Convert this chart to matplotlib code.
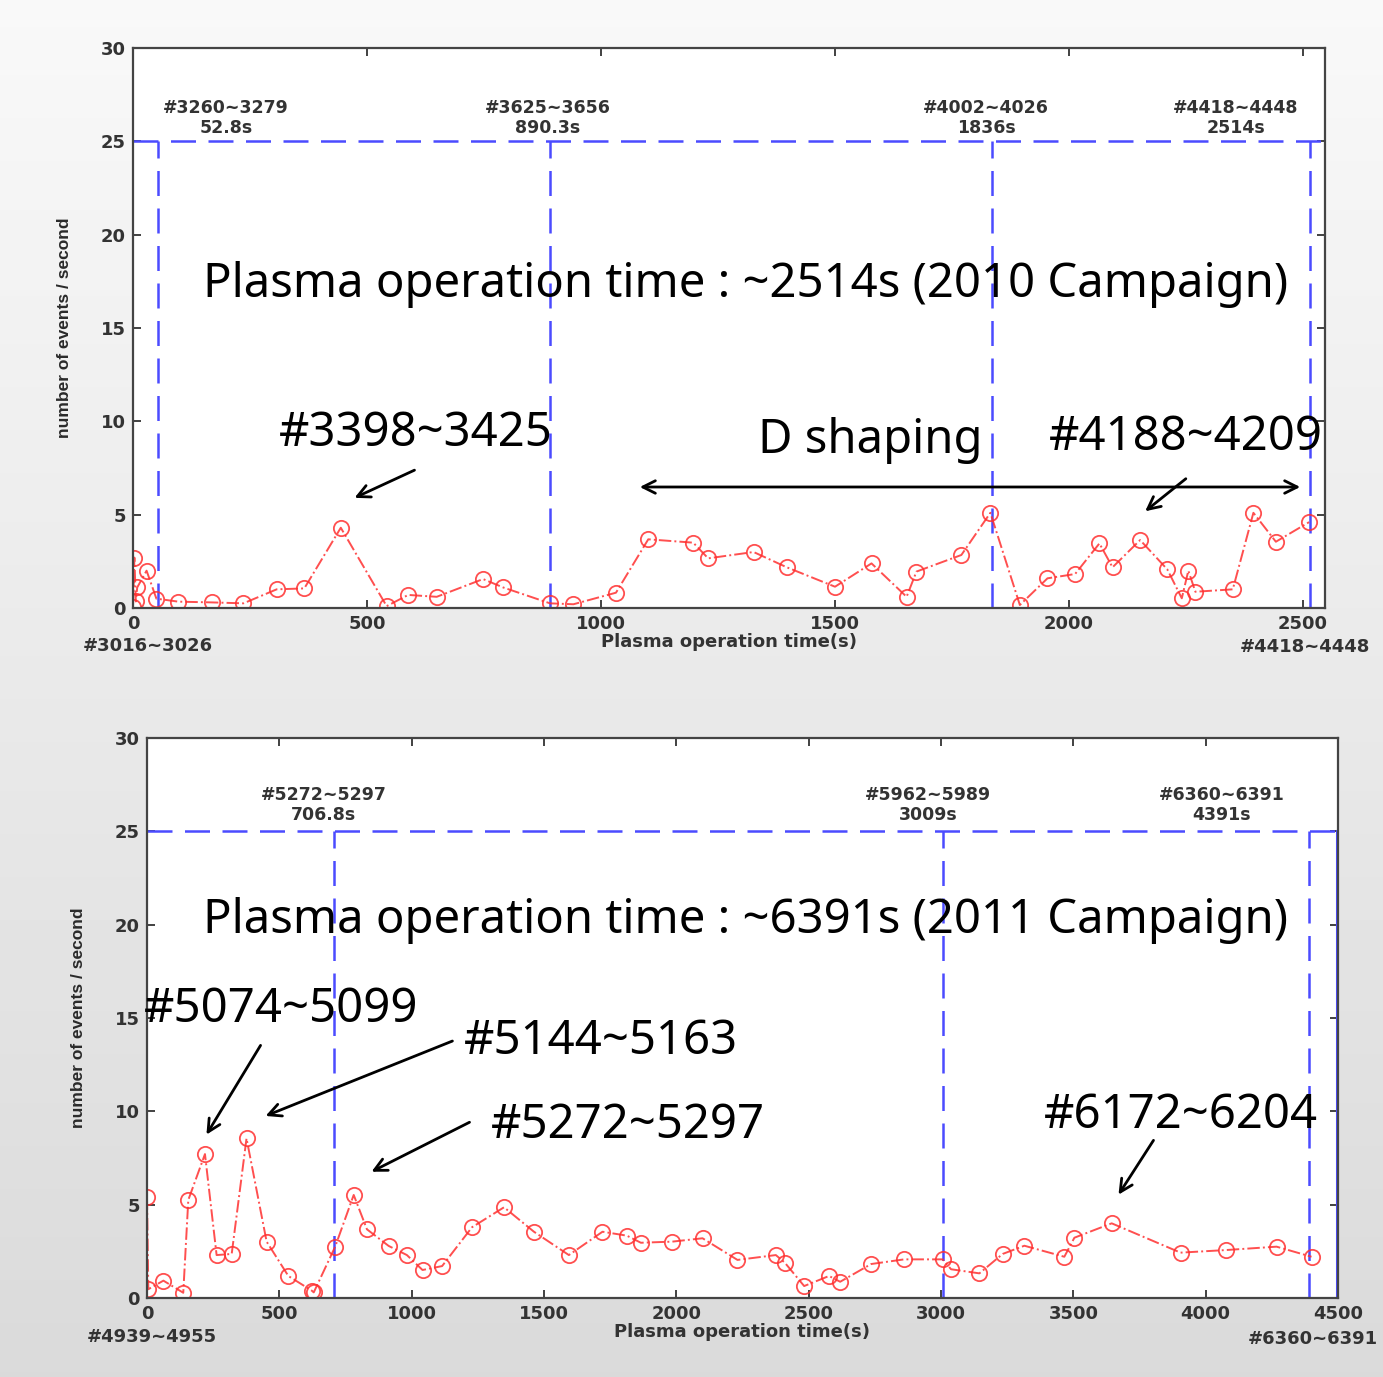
import matplotlib as mpl
mpl.use('Agg')
import matplotlib.pyplot as plt
import numpy as np

# 2010 campaign
t1 = [0, 3, 6, 9, 29, 50, 97, 168, 236, 307, 366, 444, 542, 588, 649, 748, 791, 891, 941,
      1032, 1101, 1197, 1229, 1326, 1397, 1500, 1578, 1653, 1674, 1770, 1832, 1895, 1954,
      2013, 2065, 2093, 2152, 2210, 2241, 2255, 2270, 2350, 2394, 2442, 2513]
r1 = [0.05, 2.7, 0.35, 1.1, 2.0, 0.5, 0.34, 0.3, 0.25, 1.0, 1.05, 4.3, 0.1, 0.7, 0.6, 1.55, 1.1,
      0.25, 0.2, 0.82, 3.68, 3.5, 2.66, 3.0, 2.18, 1.14, 2.39, 0.6, 1.95, 2.84, 5.1, 0.16, 1.59,
      1.82, 3.46, 2.18, 3.64, 2.07, 0.52, 2.0, 0.87, 1.0, 5.1, 3.55, 4.6]
marks1 = [52.8, 890.3, 1836, 2514]
mark_labels1 = ["#3260~3279\n52.8s", "#3625~3656\n890.3s", "#4002~4026\n1836s", "#4418~4448\n2514s"]

# 2011 campaign
t2 = [0, 5, 62, 137, 156, 219, 263, 320, 376, 452, 534, 623, 630, 711, 781, 831, 913, 982,
      1041, 1115, 1228, 1349, 1462, 1594, 1721, 1813, 1866, 1985, 2099, 2231, 2376, 2410,
      2483, 2577, 2619, 2736, 2861, 3006, 3038, 3145, 3233, 3315, 3466, 3504, 3645, 3905,
      4078, 4268, 4400]
r2 = [5.39, 0.47, 0.93, 0.28, 5.25, 7.71, 2.3, 2.36, 8.55, 3.02, 1.18, 0.39, 0.3, 2.75, 5.52,
      3.68, 2.79, 2.3, 1.5, 1.71, 3.79, 4.86, 3.55, 2.3, 3.55, 3.34, 2.96, 3.02, 3.2, 2.04, 2.3,
      1.89, 0.64, 1.18, 0.87, 1.82, 2.07, 2.07, 1.54, 1.32, 2.36, 2.8, 2.21, 3.23, 4.0, 2.43,
      2.57, 2.75, 2.21]
marks2 = [706.8, 3009, 4391]
mark_labels2 = ["#5272~5297\n706.8s", "#5962~5989\n3009s", "#6360~6391\n4391s"]

W, H = 1383, 1377
fig = plt.figure(figsize=(W / 100, H / 100), dpi=100)

# grey gradient backdrop
bg = fig.add_axes([0, 0, 1, 1], zorder=-10)
grad = np.linspace(0.975, 0.855, 256).reshape(-1, 1)
bg.imshow(grad, aspect='auto', cmap='gray', vmin=0, vmax=1, extent=[0, 1, 0, 1])
bg.axis('off')

smallfont = dict(family='DejaVu Sans', weight='bold', size=12.5, color='#333333')
labfont = dict(family='DejaVu Sans', weight='bold', size=13, color='#333333')
bigfont = dict(family='Noto Sans', size=34, color='black')
blue = '#4b4bff'
red = '#ff3030'
dash = (0, (10, 5))


def setup(ax, xmax, xticks):
    ax.set_xlim(0, xmax)
    ax.set_ylim(0, 30)
    ax.set_xticks(xticks)
    ax.set_yticks(range(0, 31, 5))
    ax.tick_params(direction='in', length=6, width=1.3, top=True, right=True, pad=5,
                   color='#333333', labelsize=13, labelcolor='#333333')
    for lab in ax.get_xticklabels() + ax.get_yticklabels():
        lab.set_fontfamily('DejaVu Sans')
        lab.set_fontweight('bold')
    for s in ax.spines.values():
        s.set_linewidth(1.6)
        s.set_color('#444444')
    ax.set_xlabel('Plasma operation time(s)', labelpad=0, **labfont)
    ax.set_ylabel('number of events / second', labelpad=21,
                  family='Liberation Sans', size=12.5, weight='bold', color='#2a2a2a')


def to_xy(ax, px, py):
    # pixel position in the picture -> data coords of ax
    inv = ax.transData.inverted()
    return inv.transform((px, H - py))


# ---------- top ----------
ax1 = fig.add_axes([133 / W, 1 - 608 / H, 1192 / W, 560 / H])
setup(ax1, 2547, range(0, 2501, 500))
ax1.axhline(25, color=blue, lw=1.8, ls=dash)
for m in marks1:
    ax1.plot([m, m], [0, 25], color=blue, lw=1.8, ls=dash)
ax1.plot(t1, r1, '-.', color=red, lw=1.4, marker='o', ms=11, mfc='none', mew=1.3, alpha=0.85)
for px, lab in zip([226, 548, 986, 1236], mark_labels1):
    ax1.text(*to_xy(ax1, px, 118), lab, ha='center', va='center', linespacing=1.15, **smallfont)

ax1.text(*to_xy(ax1, 746, 284), 'Plasma operation time : ~2514s (2010 Campaign)',
         ha='center', va='center', **bigfont)
ax1.text(*to_xy(ax1, 416, 433), '#3398~3425', ha='center', va='center', **bigfont)
ax1.text(*to_xy(ax1, 870, 440), 'D shaping', ha='center', va='center', **bigfont)
ax1.text(*to_xy(ax1, 1186, 437), '#4188~4209', ha='center', va='center', **bigfont)

arr = dict(arrowstyle='->,head_length=0.9,head_width=0.45', color='black', lw=2)
ax1.annotate('', xy=to_xy(ax1, 352, 499), xytext=to_xy(ax1, 417, 469), arrowprops=arr)
ax1.annotate('', xy=to_xy(ax1, 1143, 513), xytext=to_xy(ax1, 1188, 477), arrowprops=arr)
ax1.annotate('', xy=to_xy(ax1, 1303, 487), xytext=to_xy(ax1, 637, 487),
             arrowprops=dict(arrowstyle='<->,head_length=0.9,head_width=0.45',
                             color='black', lw=2))
fig.text(148 / W, 1 - 646 / H, '#3016~3026', ha='center', va='center', **labfont)
fig.text(1240 / W, 1 - 647 / H, '#4418~4448', ha='left', va='center', **labfont)

# ---------- bottom ----------
ax2 = fig.add_axes([147 / W, 1 - 1298 / H, 1191 / W, 560 / H])
setup(ax2, 4500, range(0, 4501, 500))
ax2.axhline(25, color=blue, lw=1.8, ls=dash)
for m in marks2:
    ax2.plot([m, m], [0, 25], color=blue, lw=1.8, ls=dash)
ax2.plot([4495, 4495], [0, 25], color=blue, lw=2.2)
ax2.plot(t2, r2, '-.', color=red, lw=1.4, marker='o', ms=11, mfc='none', mew=1.3, alpha=0.85)
for px, lab in zip([324, 928, 1222], mark_labels2):
    ax2.text(*to_xy(ax2, px, 805), lab, ha='center', va='center', linespacing=1.15, **smallfont)

ax2.text(*to_xy(ax2, 746, 920), 'Plasma operation time : ~6391s (2011 Campaign)',
         ha='center', va='center', **bigfont)
ax2.text(*to_xy(ax2, 281, 1010), '#5074~5099', ha='center', va='center', **bigfont)
ax2.text(*to_xy(ax2, 601, 1041), '#5144~5163', ha='center', va='center', **bigfont)
ax2.text(*to_xy(ax2, 628, 1126), '#5272~5297', ha='center', va='center', **bigfont)
ax2.text(*to_xy(ax2, 1181, 1116), '#6172~6204', ha='center', va='center', **bigfont)
ax2.annotate('', xy=to_xy(ax2, 205, 1137), xytext=to_xy(ax2, 262, 1043), arrowprops=arr)
ax2.annotate('', xy=to_xy(ax2, 263, 1117), xytext=to_xy(ax2, 455, 1040), arrowprops=arr)
ax2.annotate('', xy=to_xy(ax2, 369, 1173), xytext=to_xy(ax2, 472, 1121), arrowprops=arr)
ax2.annotate('', xy=to_xy(ax2, 1117, 1197), xytext=to_xy(ax2, 1155, 1138), arrowprops=arr)
fig.text(152 / W, 1 - 1337 / H, '#4939~4955', ha='center', va='center', **labfont)
fig.text(1248 / W, 1 - 1339 / H, '#6360~6391', ha='left', va='center', **labfont)

plt.savefig('out.png', dpi=100)
